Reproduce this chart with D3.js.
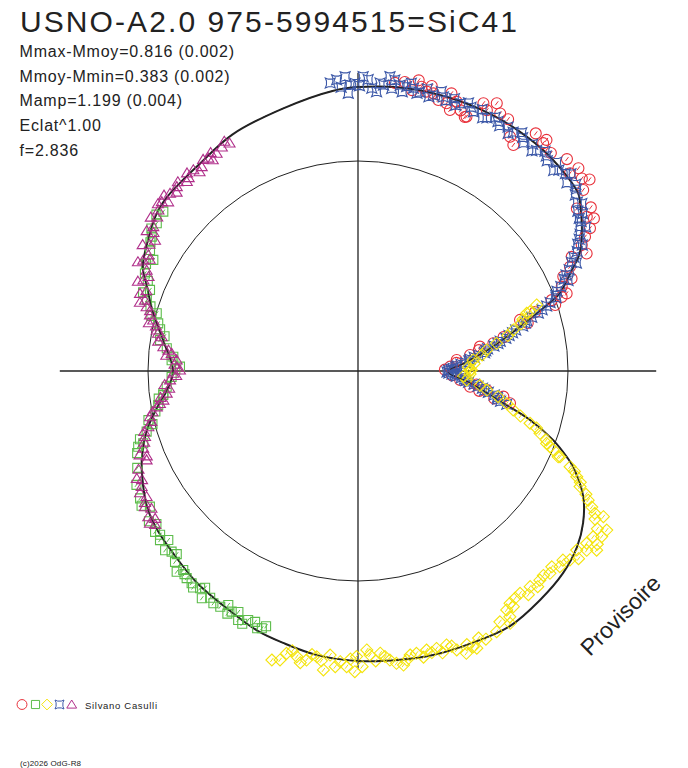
<!DOCTYPE html>
<html>
<head>
<meta charset="utf-8">
<script src="https://cdn.jsdelivr.net/npm/d3@7"></script>
<style>
  body { margin: 0; background: #fff; }
  svg { display: block; }
  text { font-family: "Liberation Sans", Arial, sans-serif; fill: #222; }
</style>
</head>
<body>
<div class="chart"></div>
<script>
var svgWidth = 688;
var svgHeight = 768;
var center = {x: 358, y: 371};

// phase angle (degrees, clockwise from top) / radius (% of the mean circle)
var fitCurve = [
  [0, 135.2], [8, 136.4], [16.5, 137.1], [25, 137.6], [33, 137.6], [42, 137], [51, 134.8],
  [52.9, 132.6], [57.8, 126], [62, 119.6], [64.7, 112.7], [68.9, 103.1], [70, 98.8],
  [72.5, 88], [75, 79], [78, 70], [81, 62], [85.7, 51], [90.5, 42.9], [96, 53.6],
  [102.4, 70.7], [105.9, 85.2], [109.5, 98.6], [112.4, 107.6], [114, 112.1], [119.2, 122.9],
  [124, 129.3], [128.8, 133.8], [134.6, 137.1], [141.5, 139.3], [149.3, 141.4], [157.6, 140.4],
  [165.2, 139.9], [171.7, 139], [180, 138.1], [188.2, 136.7], [195.4, 134.3], [201, 132.7],
  [208.2, 129.4], [217.2, 126.7], [225.5, 123.6], [231.6, 121.9], [237.2, 119.5], [244.7, 113.8],
  [248.3, 110.7], [254.4, 104.3], [259.8, 97.1], [264.3, 91.4], [270, 88.1], [279, 94],
  [285.8, 101.4], [291.7, 108.1], [295.8, 113.8], [302, 117.9], [308.2, 121.8], [312.3, 123],
  [316.6, 123.3], [322, 124], [332, 127.5], [344, 130], [355, 134]
];

var redPoints = [
  [7.3, 138.3], [9.2, 139.4], [10.9, 136.2], [12.6, 138.7], [13.8, 137], [15.2, 137], [16.5, 134.6],
  [18.3, 134.3], [19.4, 131.8], [20.1, 136.6], [18.6, 139.5], [22.8, 131.2], [23.1, 131.7],
  [25.1, 140.8], [27.4, 143.6], [28.9, 140.1], [33, 133], [34.5, 130.6], [39.2, 142], [39.1, 139.8],
  [47.4, 142.6], [47, 138], [49.3, 140.6], [51.2, 137.6], [53.4, 129.8], [56, 131.4], [58.4, 129.7],
  [59.4, 125.6], [60.6, 122.3], [61.9, 115.4], [63.8, 112.5], [65.3, 107.6], [67.5, 105],
  [69.6, 106], [70, 103.2], [71.5, 99], [69.9, 98.2], [72.5, 80.9], [71.6, 88.8], [78.4, 65.8],
  [78.7, 59.2], [81.9, 53.9], [83.6, 47.3], [87.3, 43.9], [95, 48.8], [98, 53.9], [98.4, 62],
  [100, 70.3], [102, 74], [11.8, 141.4], [14.5, 140.2], [21.5, 133.4], [26.3, 138.5], [30.8, 139.6],
  [36.8, 141.3], [41.5, 138.6], [44.6, 141.7], [50.4, 143.1], [54.9, 135.5], [57.1, 133.8],
  [62.8, 122.4], [66.6, 110.8], [74.2, 84], [76.9, 71.2], [80.2, 58.4], [85.3, 47], [89.1, 41.4],
  [92.6, 44.8], [96.5, 56.8], [99.3, 58.5], [101.4, 66.2]
];

var greenPoints = [
  [263.5, 93.3], [260.3, 96.5], [256.8, 102.5], [254, 104.7], [251, 110.7], [251.4, 107.9],
  [239.7, 120.2], [236.9, 118.3], [231.6, 123.3], [229.5, 124], [228.3, 121], [225.9, 123.6],
  [223.8, 125.9], [222.1, 128.8], [221.3, 126.1], [219.6, 128], [218.1, 128.4], [216, 127.9],
  [214.5, 131.3], [211.9, 130.3], [210.3, 130], [209, 127.4], [207.7, 129.4], [205.7, 131.6],
  [203.8, 129.6], [202.3, 129.1], [200.5, 130.8], [309.3, 119.8], [306.3, 118.9], [303.1, 117.2],
  [300.2, 114.6], [298.5, 110.9], [294.6, 111.6], [291.3, 106.3], [288.6, 106.1], [286, 99.7],
  [283.4, 97.8], [278.9, 95.4], [276.8, 91.7], [274.4, 88.2], [271.4, 84.8], [268.2, 88.8],
  [265.3, 91.4], [263, 93.4], [262.1, 95.8], [258.7, 98.4], [255.5, 101.1], [252.6, 108.8],
  [249.6, 112.2], [246.3, 114.8], [242.8, 118.6], [238.1, 121.4], [234.3, 122.6], [232.8, 120.5],
  [230.4, 122.3], [227.1, 125.4], [224.7, 122.7], [220.5, 127.2], [217.3, 129.6], [215.2, 126.3],
  [213.1, 128.9], [208.3, 131.2], [206.4, 128.1], [204.6, 132.4], [201.4, 131.6], [199.8, 129.2],
  [307.8, 121.5], [304.6, 119.5], [301.8, 116.3], [296.8, 113.1], [293.2, 108.9], [290.1, 109],
  [287.3, 103.5], [284.9, 101.8], [281.9, 96.3], [280.2, 93.6], [273.3, 88.9], [270.5, 87]
];

var yellowPoints = [
  [71, 86.6], [69.7, 90.7], [71.1, 84.9], [75.2, 76.5], [78.7, 67.3], [80.7, 62.1], [84.5, 55.1],
  [89.5, 54], [89.8, 53.3], [94.7, 51.9], [98.4, 62], [104.1, 76.2], [106.9, 85.6], [108.9, 91.6],
  [111, 96.2], [112, 100.3], [113, 104.5], [111.5, 98.3], [113.2, 103.7], [114.3, 110.8],
  [115.8, 115.7], [117.5, 119.2], [119.3, 125.7], [121, 131.6], [120.7, 135.9], [122.6, 140.6],
  [124.2, 140.3], [125.2, 137], [127, 136.3], [126.9, 142.1], [129.3, 134.6], [131.7, 135.2],
  [134.1, 133.9], [136.5, 132.8], [139, 132], [141.4, 131.4], [143.9, 131], [146.8, 132.2],
  [148.1, 134], [148.9, 140.3], [152, 140.6], [157.3, 142.3], [159, 144], [195.1, 142.5],
  [194.2, 138.7], [192.1, 139.1], [190.1, 139.8], [188.2, 137.5], [186.6, 143.3], [185.6, 135.9],
  [183.5, 138.7], [182.2, 140.9], [180.6, 143.2], [180.3, 136], [178.2, 132.9], [177.6, 135.4],
  [175.5, 134.8], [173.7, 138.5], [172.5, 140.4], [171.2, 141.7], [169.6, 137.5], [168.3, 137.3],
  [166.2, 136.8], [164.2, 137.3], [162.1, 137.1], [160.5, 140.9], [156.8, 143.6], [148.3, 137.6],
  [146.6, 134.4], [196.6, 143.6], [72.6, 82.3], [73.8, 80.9], [76.7, 73.3], [82.6, 59.6],
  [86.4, 55.4], [88, 52.6], [91.5, 53.4], [92.8, 50.3], [96.7, 58.5], [100.4, 67.8], [102.3, 72.5],
  [105.5, 80.3], [107.7, 89.2], [110.1, 95.5], [114.9, 113.6], [116.6, 118.4], [118.4, 123.4],
  [120.2, 128.8], [122, 133.1], [123.4, 136.5], [125.9, 140.7], [128.1, 138.4], [130.4, 137.9],
  [132.7, 132.8], [135.3, 131.2], [137.8, 131.4], [140.2, 133.7], [142.7, 133.9], [145.3, 131.5],
  [150.5, 137.2], [154.5, 141.5], [155.7, 139.5], [158.3, 140.2], [161.2, 138.4], [163.3, 140.1],
  [165.3, 138.6], [167.1, 139.8], [170.4, 139.6], [174.6, 136.6], [176.5, 138.3], [179.2, 140.8],
  [181.5, 137.2], [184.4, 141.2], [187.2, 139.1], [189.2, 136.8], [191.2, 141.6], [193.2, 136.9]
];

var bluePoints = [
  [355.8, 139], [357.5, 140.3], [358.4, 136.2], [359.4, 137], [1, 140.2], [358, 132.3], [2.8, 134.8],
  [3.8, 133.3], [5.1, 136.7], [6.2, 141], [7.2, 139.7], [8.4, 137.6], [9.7, 137.4], [11.1, 137.2],
  [12.5, 136], [13.8, 138.4], [15.2, 136.1], [16.6, 138.9], [18, 135.4], [19.5, 137.6], [21, 136.5],
  [22.4, 138.1], [24, 135.1], [25.4, 137.9], [27, 135.3], [28.4, 137.4], [30, 134.9], [31.6, 136.4],
  [33, 135.6], [34.5, 137.7], [36, 134.2], [37.6, 136.3], [39, 135.1], [40.4, 137.4], [42, 134.7],
  [43.6, 137.2], [45, 135.3], [46.4, 136.4], [48, 133.9], [49.4, 136.6], [51, 133.2], [52.4, 131.9],
  [54, 129.4], [55.4, 128], [57, 126.1], [58.4, 124.2], [60, 120.8], [61.4, 118.9], [63, 114.1],
  [64.4, 111.5], [66, 107.5], [67.4, 104.6], [69, 100.8], [70.4, 97.1], [71.6, 92.4], [72.8, 86.6],
  [74, 82.9], [75.4, 77.6], [76.8, 73.9], [78.2, 69.2], [79.6, 65.8], [81, 61.6], [82.6, 57.9],
  [84, 53.6], [85.6, 51.3], [87, 47.2], [88.4, 45.3], [89.6, 43.1], [90.6, 42.4], [91.8, 44.8],
  [93, 46.9], [94.4, 50.8], [95.8, 52.9], [97.2, 57.6], [98.6, 61], [100, 65.9], [101.4, 67.8],
  [102.6, 72.6], [354.5, 137.8], [356.6, 135.4], [0.3, 135.8], [2, 138.9], [4.4, 137.5],
  [6.8, 135.5], [9, 134.6], [10.5, 139.4], [12, 135.2], [14.5, 134.9], [17.3, 136.7], [20.2, 134.8],
  [23.2, 136.6], [26.2, 134.4], [29.3, 136.2], [32.3, 133.8], [35.2, 136], [38.3, 133.6],
  [41.2, 136.1], [44.3, 133.4], [47.2, 138.2], [50.2, 135.4], [53.2, 133.1], [55, 130.6],
  [56.2, 127.9], [57.7, 128.3], [59.2, 122.6], [60.7, 122.5], [62.2, 116.2], [63.7, 116],
  [65.2, 109.1], [66.7, 108.9], [68.2, 102.1], [69.7, 100.6], [71, 95], [72.2, 90.2], [73.4, 83.9],
  [74.7, 81.3], [76.1, 75.8], [77.5, 72.1], [78.9, 67.9], [80.3, 62.6], [81.8, 60.9], [83.3, 55.7],
  [84.8, 53], [86.3, 49.1], [87.7, 46.6], [89, 44.3], [91.2, 43.3], [92.4, 46.1], [93.7, 49.3],
  [95.1, 51.6], [96.5, 55.7], [97.9, 59.8], [99.3, 62.9], [100.7, 67.6], [102, 69.4]
];

var magentaPoints = [
  [327, 123.6], [324.9, 123.9], [322.6, 122.5], [320.7, 123.8], [317.9, 121.6], [315.5, 123.1],
  [313.4, 123.2], [310.8, 123.4], [308.9, 122.1], [305.2, 119.3], [302.8, 115], [299, 114.1],
  [297.3, 115.1], [295.5, 111.5], [293, 111], [289.6, 110.2], [288.4, 106.9], [286.9, 105.2],
  [285.1, 102.6], [284, 100.5], [281.5, 97.8], [279.9, 94.9], [277.1, 93.4], [275.4, 89.1],
  [273.5, 86.5], [270.3, 84.8], [269.3, 88], [267.3, 89.6], [263.4, 91.7], [261.5, 93.7],
  [259.9, 97.3], [257.6, 101.4], [255.1, 103.3], [252.9, 106.1], [250.2, 108.7], [247.2, 109.2],
  [244.1, 117.1], [241.9, 116.8], [239.3, 117.1], [237.5, 120.3], [235.2, 121.6], [234, 119.4],
  [233.8, 122.8], [328.7, 124.8], [326, 125.5], [325.5, 122.1], [323.8, 124.9], [321.5, 121.2],
  [319.2, 124.6], [318.8, 122.4], [316.4, 124.4], [314.6, 121.3], [312.2, 124.7], [311.7, 121.1],
  [309.9, 124.2], [307.5, 120.5], [306.6, 122.9], [304.1, 117.6], [303.6, 120.8], [301.3, 116.2],
  [300.4, 118.9], [298.2, 112.6], [296.4, 117], [294.3, 109.4], [292.2, 113.2], [290.8, 107.8],
  [287.5, 108.9], [286.2, 103.1], [283, 102.2], [282.6, 98.6], [280.7, 96.9], [278.5, 96.2],
  [276.3, 90.8], [274.7, 91.6], [272.1, 87.4], [271.2, 86.2], [268.6, 86.6], [266, 92.3],
  [264.8, 90.3], [262.4, 94.9], [260.7, 95.6], [258.8, 99.8], [256.3, 101.3], [254.2, 105.8],
  [251.6, 107.3], [249, 111.4], [248.1, 108.4], [245.9, 114.5], [243.3, 115.1], [240.8, 118.9],
  [238.3, 119.2], [236.4, 118.1], [232.9, 121.1], [329.8, 126.6], [330.6, 124.6]
];

var infoLines = ["Mmax-Mmoy=0.816 (0.002)", "Mmoy-Mmin=0.383 (0.002)", "Mamp=1.199 (0.004)",
  "Eclat^1.00", "f=2.836"];

var meanCircle = 100;
var axisExtent = 142;

var svg = d3.select(".chart")
  .append("svg")
  .attr("width", svgWidth)
  .attr("height", svgHeight);

var rScale = d3.scaleLinear().domain([0, 100]).range([0, 210]);
var aScale = d3.scaleLinear().domain([0, 360]).range([0, 2 * Math.PI]);

var plot = svg.append("g")
  .attr("transform", `translate(${center.x}, ${center.y})`);

// marker shapes
var shapes = {
  circle: "M5.5,0A5.5,5.5 0 1,1 -5.5,0A5.5,5.5 0 1,1 5.5,0Z",
  square: "M-4.5,-4.5H4.5V4.5H-4.5Z",
  diamond: "M0,-6L6,0L0,6L-6,0Z",
  star: "M-5,-5L-2,-3.8L2,-3.8L5,-5L3.8,-2L3.8,2L5,5L2,3.8L-2,3.8L-5,5L-3.8,2L-3.8,-2Z",
  triangle: "M0,-5L5.5,4L-5.5,4Z"
};

function drawMarks(data, shape, color, slash) {
  var g = plot.append("g");
  var marks = g.selectAll("g")
    .data(data)
    .enter()
    .append("g")
    .attr("transform", function(d) {
      var p = d3.pointRadial(aScale(d[0]), rScale(d[1]));
      return `translate(${p[0]}, ${p[1]})`;
    });
  marks.append("path")
    .attr("d", shapes[shape])
    .attr("fill", "none")
    .attr("stroke", color)
    .attr("stroke-width", 1.1);
  if (slash) {
    marks.append("path")
      .attr("d", "M-1.5,2L1.5,-2")
      .attr("stroke", color)
      .attr("stroke-width", 1);
  }
}

// mean circle and axes
plot.append("circle")
  .attr("r", rScale(meanCircle))
  .attr("fill", "none")
  .attr("stroke", "#222")
  .attr("stroke-width", 1);

plot.append("line")
  .attr("x1", -rScale(axisExtent)).attr("x2", rScale(axisExtent))
  .attr("y1", 0).attr("y2", 0)
  .attr("stroke", "#222").attr("stroke-width", 1.3);
plot.append("line")
  .attr("x1", 0).attr("x2", 0)
  .attr("y1", -rScale(axisExtent)).attr("y2", rScale(axisExtent))
  .attr("stroke", "#222").attr("stroke-width", 1.3);

// fitted light curve
var radialLine = d3.lineRadial()
  .angle(d => aScale(d[0]))
  .radius(d => rScale(d[1]))
  .curve(d3.curveCatmullRomClosed.alpha(0.5));

plot.append("path")
  .attr("d", radialLine(fitCurve))
  .attr("fill", "none")
  .attr("stroke", "#222")
  .attr("stroke-width", 2);

drawMarks(redPoints, "circle", "#e8303a", true);
drawMarks(bluePoints, "star", "#3c58a8", false);
drawMarks(yellowPoints, "diamond", "#f4e40c", true);
drawMarks(greenPoints, "square", "#5cbc4a", true);
drawMarks(magentaPoints, "triangle", "#b02f8a", false);

// thin trace of the fit over the marks
plot.append("path")
  .attr("d", radialLine(fitCurve))
  .attr("fill", "none")
  .attr("stroke", "#222")
  .attr("stroke-width", 1)
  .attr("stroke-dasharray", "6 4");

// title and info text
svg.append("text")
  .attr("x", 20)
  .attr("y", 32)
  .attr("font-size", 30)
  .attr("textLength", 497)
  .attr("lengthAdjust", "spacing")
  .text("USNO-A2.0 975-5994515=SiC41");

svg.selectAll(".info")
  .data(infoLines)
  .enter()
  .append("text")
  .attr("class", "info")
  .attr("x", 19.5)
  .attr("y", (d, i) => 57 + i * 24.7)
  .attr("font-size", 16)
  .attr("letter-spacing", 0.8)
  .text(d => d);

svg.append("text")
  .attr("transform", "translate(590, 657) rotate(-45)")
  .attr("font-size", 23)
  .attr("fill", "#222")
  .text("Provisoire");

// legend
var legendItems = [
  ["circle", "#e8303a", 22], ["square", "#5cbc4a", 35.5], ["diamond", "#f4e40c", 47],
  ["star", "#3c58a8", 59.5], ["triangle", "#b02f8a", 71.7]
];
svg.selectAll(".legend")
  .data(legendItems)
  .enter()
  .append("path")
  .attr("class", "legend")
  .attr("transform", d => `translate(${d[2]}, 704.5) scale(0.9)`)
  .attr("d", d => shapes[d[0]])
  .attr("fill", "none")
  .attr("stroke", d => d[1])
  .attr("stroke-width", 1.1);

svg.append("text")
  .attr("x", 85)
  .attr("y", 709)
  .attr("font-size", 9.5)
  .attr("textLength", 72)
  .attr("lengthAdjust", "spacing")
  .text("Silvano Casulli");

svg.append("text")
  .attr("x", 20)
  .attr("y", 766)
  .attr("font-size", 8)
  .attr("textLength", 61)
  .attr("lengthAdjust", "spacing")
  .text("(c)2026 OdG-R8");
</script>
</body>
</html>
